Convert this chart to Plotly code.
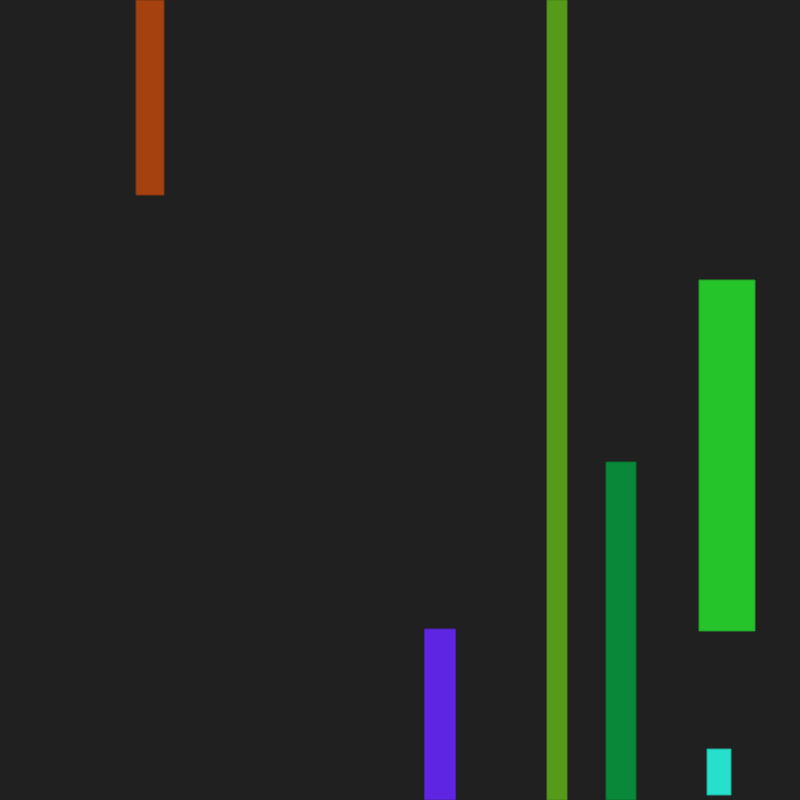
import plotly.graph_objects as go

# Bloki: środek x, szerokość, początek (od góry), długość
x_mid = [150, 440, 557, 621, 727, 719]
widths = [28, 31, 20, 30, 56, 24]
starts = [0, 629, 0, 462, 280, 749]
lengths = [195, 171, 800, 338, 351, 46]
colors = ["#A5410E", "#5E26E2", "#559A18", "#088838", "#24C42A", "#26E0CC"]
edges = ["#7a3512", "#4a24a8", "#4c8418", "#0b6a30", "#229a28", "#1fa898"]

fig = go.Figure()
fig.add_trace(go.Bar(
    x=x_mid, y=lengths, base=starts, width=widths,
    marker=dict(color=colors, line=dict(color=edges, width=1)),
    hoverinfo="skip",
))

fig.update_layout(
    width=800, height=800,
    margin=dict(l=0, r=0, t=0, b=0),
    paper_bgcolor="#202020", plot_bgcolor="#202020",
    showlegend=False,
    xaxis=dict(range=[0, 800], visible=False, fixedrange=True),
    yaxis=dict(range=[800, 0], visible=False, fixedrange=True),
)

# bez marginesu strony
fig.write_html(
    "out.html",
    config={"displayModeBar": False},
    post_script="document.body.style.margin='0';document.body.style.background='#202020';",
)
